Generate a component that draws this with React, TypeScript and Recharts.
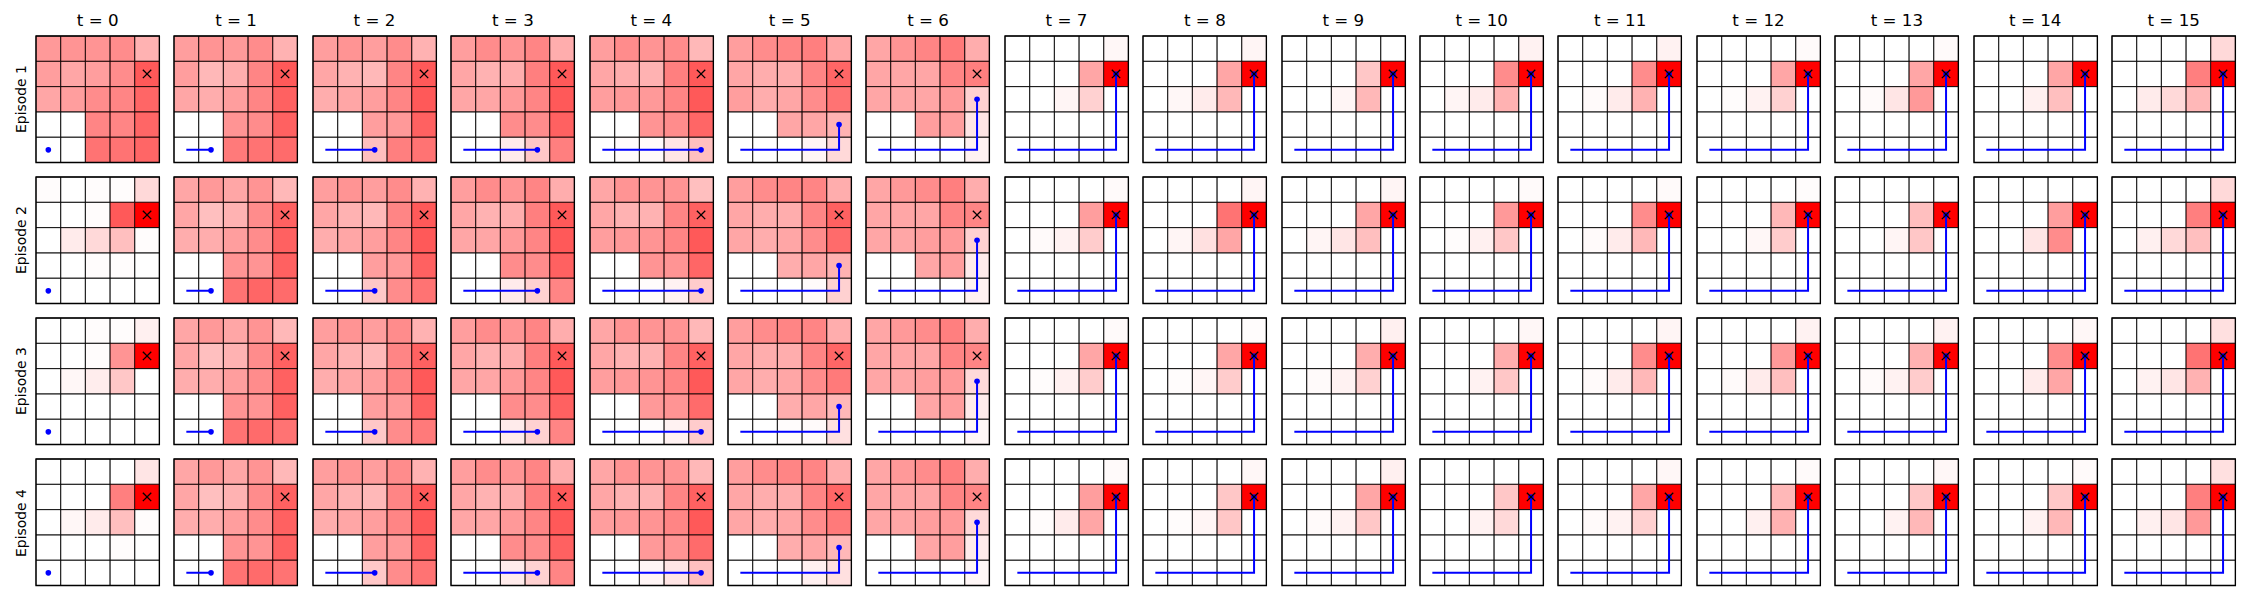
import React from 'react';
import { ComposedChart, XAxis, YAxis, ReferenceArea, Line, Scatter } from 'recharts';

const timeSteps = [0, 1, 2, 3, 4, 5, 6, 7, 8, 9, 10, 11, 12, 13, 14, 15];
const episodeLabels = ['Episode 1', 'Episode 2', 'Episode 3', 'Episode 4'];
const pathX = [0.5, 1.5, 2.5, 3.5, 4.5, 4.5, 4.5, 4.5];
const pathY = [0.5, 0.5, 0.5, 0.5, 0.5, 1.5, 2.5, 3.5];
const goalPoint = [{ x: 4.5, y: 3.5 }];

// each grid: 5 rows (top to bottom) x 5 columns, intensity 0..1
const ep1Grids: number[][] = [
  [0.40,0.42,0.42,0.45,0.30, 0.38,0.35,0.38,0.45,0.65, 0.35,0.38,0.45,0.48,0.60, 0,0,0.48,0.48,0.60, 0,0,0.55,0.55,0.60],
  [0.38,0.42,0.40,0.45,0.30, 0.38,0.28,0.32,0.48,0.65, 0.35,0.32,0.38,0.48,0.62, 0,0,0.42,0.45,0.62, 0,0,0.52,0.55,0.58],
  [0.38,0.42,0.38,0.45,0.30, 0.35,0.30,0.28,0.48,0.65, 0.32,0.35,0.38,0.48,0.65, 0,0,0.38,0.40,0.62, 0,0,0.25,0.50,0.55],
  [0.38,0.45,0.42,0.48,0.32, 0.35,0.30,0.32,0.50,0.65, 0.35,0.35,0.40,0.48,0.65, 0,0,0.45,0.45,0.62, 0,0,0.08,0.22,0.50],
  [0.38,0.45,0.42,0.45,0.28, 0.35,0.32,0.30,0.50,0.65, 0.38,0.40,0.40,0.48,0.65, 0,0,0.42,0.45,0.60, 0,0.01,0.02,0.10,0.25],
  [0.38,0.45,0.48,0.50,0.35, 0.35,0.32,0.32,0.48,0.60, 0.38,0.32,0.35,0.45,0.55, 0,0,0.35,0.35,0.30, 0,0,0,0.04,0.15],
  [0.35,0.42,0.48,0.52,0.32, 0.35,0.35,0.35,0.48,0.50, 0.35,0.35,0.35,0.40,0.18, 0,0,0.38,0.38,0.10, 0,0,0,0,0.05],
  [0,0,0,0,0.03, 0,0,0,0.35,1, 0,0,0.04,0.18,0, 0,0,0,0,0, 0,0,0,0,0],
  [0,0,0,0,0.04, 0,0,0,0.35,1, 0,0.03,0.08,0.28,0, 0,0,0,0,0, 0,0,0,0,0],
  [0,0,0,0,0.00, 0,0,0,0.22,1, 0,0,0.04,0.28,0, 0,0,0,0,0, 0,0,0,0,0],
  [0,0,0,0,0.05, 0,0,0,0.45,1, 0,0.04,0.08,0.30,0, 0,0,0,0,0, 0,0,0,0,0],
  [0,0,0,0,0.05, 0,0,0,0.45,1, 0,0.02,0.08,0.30,0, 0,0,0,0,0, 0,0,0,0,0],
  [0,0,0,0,0.02, 0,0,0,0.35,1, 0,0.01,0.05,0.18,0, 0,0,0,0,0, 0,0,0,0,0],
  [0,0,0,0,0.02, 0,0,0,0.35,1, 0,0.02,0.10,0.40,0, 0,0,0,0,0, 0,0,0,0,0],
  [0,0,0,0,0.00, 0,0,0,0.35,1, 0,0,0.06,0.25,0, 0,0,0,0,0, 0,0,0,0,0],
  [0,0,0,0,0.15, 0,0,0,0.50,1, 0,0.08,0.15,0.28,0, 0,0,0,0,0, 0,0,0,0,0],
];

const ep2Grids: number[][] = [
  [0.01,0,0.01,0.01,0.15, 0,0,0.01,0.65,1, 0,0.08,0.15,0.25,0.01, 0,0,0.01,0.01,0, 0,0,0,0,0],
  [0.35,0.40,0.35,0.42,0.28, 0.35,0.25,0.30,0.45,0.62, 0.32,0.32,0.38,0.45,0.62, 0,0,0.42,0.42,0.62, 0,0,0.55,0.60,0.58],
  [0.38,0.42,0.38,0.45,0.30, 0.35,0.30,0.28,0.48,0.65, 0.32,0.35,0.38,0.48,0.65, 0,0,0.38,0.40,0.62, 0,0,0.22,0.45,0.55],
  [0.38,0.45,0.42,0.48,0.32, 0.35,0.30,0.32,0.50,0.65, 0.35,0.35,0.40,0.48,0.65, 0,0,0.45,0.45,0.62, 0,0,0.08,0.18,0.48],
  [0.35,0.42,0.42,0.42,0.25, 0.35,0.30,0.30,0.48,0.62, 0.38,0.40,0.42,0.48,0.65, 0,0,0.42,0.42,0.60, 0,0,0.01,0.05,0.20],
  [0.38,0.45,0.48,0.48,0.32, 0.35,0.32,0.32,0.48,0.62, 0.35,0.32,0.35,0.45,0.58, 0,0,0.32,0.35,0.30, 0,0,0,0.02,0.18],
  [0.35,0.40,0.45,0.50,0.32, 0.35,0.35,0.35,0.48,0.48, 0.35,0.35,0.38,0.40,0.18, 0,0,0.35,0.38,0.08, 0,0,0,0,0.05],
  [0,0,0,0,0.02, 0,0,0,0.38,1, 0,0.02,0.05,0.20,0, 0,0,0,0,0, 0,0,0,0,0],
  [0,0,0,0,0.04, 0,0,0,0.55,1, 0,0.04,0.12,0.35,0, 0,0,0,0,0, 0,0,0,0,0],
  [0,0,0,0,0.04, 0,0,0,0.35,1, 0,0.04,0.10,0.25,0, 0,0,0,0,0, 0,0,0,0,0],
  [0,0,0,0,0.02, 0,0,0,0.40,1, 0,0.01,0.06,0.22,0, 0,0,0,0,0, 0,0,0,0,0],
  [0,0,0,0,0.02, 0,0,0,0.45,1, 0,0.02,0.08,0.28,0, 0,0,0,0,0, 0,0,0,0,0],
  [0,0,0,0,0.01, 0,0,0,0.28,1, 0,0,0.03,0.20,0, 0,0,0,0,0, 0,0,0,0,0],
  [0,0,0,0,0.00, 0,0,0,0.25,1, 0,0,0.04,0.22,0, 0,0,0,0,0, 0,0,0,0,0],
  [0,0,0,0,0.00, 0,0,0,0.38,1, 0,0,0.10,0.45,0, 0,0,0,0,0, 0,0,0,0,0],
  [0,0,0,0,0.15, 0,0,0,0.50,1, 0,0.06,0.15,0.25,0, 0,0,0,0,0, 0,0,0,0,0],
];

const ep3Grids: number[][] = [
  [0,0,0.01,0.01,0.06, 0,0,0.01,0.42,1, 0,0.03,0.07,0.22,0, 0,0,0,0,0, 0,0,0,0,0],
  [0.35,0.40,0.35,0.42,0.28, 0.35,0.25,0.30,0.45,0.62, 0.32,0.32,0.38,0.45,0.62, 0,0,0.42,0.42,0.62, 0,0,0.55,0.58,0.55],
  [0.38,0.42,0.38,0.45,0.30, 0.35,0.30,0.28,0.48,0.62, 0.32,0.35,0.38,0.48,0.65, 0,0,0.38,0.40,0.62, 0,0,0.22,0.45,0.52],
  [0.38,0.45,0.42,0.48,0.32, 0.35,0.30,0.32,0.50,0.65, 0.35,0.35,0.40,0.48,0.65, 0,0,0.45,0.45,0.62, 0,0,0.08,0.18,0.48],
  [0.35,0.42,0.42,0.42,0.28, 0.35,0.30,0.30,0.48,0.62, 0.38,0.40,0.42,0.48,0.65, 0,0,0.40,0.42,0.58, 0,0,0.01,0.05,0.20],
  [0.38,0.45,0.48,0.48,0.32, 0.35,0.32,0.32,0.48,0.60, 0.35,0.32,0.35,0.45,0.52, 0,0,0.32,0.35,0.28, 0,0,0.01,0.02,0.12],
  [0.35,0.40,0.45,0.50,0.32, 0.35,0.35,0.35,0.48,0.48, 0.35,0.35,0.38,0.40,0.15, 0,0,0.35,0.38,0.08, 0,0,0,0,0.03],
  [0,0,0,0,0.02, 0,0,0,0.35,1, 0,0.01,0.06,0.20,0, 0,0,0,0,0, 0,0,0,0,0],
  [0,0,0,0,0.01, 0,0,0,0.35,1, 0,0.01,0.04,0.20,0, 0,0,0,0,0, 0,0,0,0,0],
  [0,0,0,0,0.06, 0,0,0,0.32,1, 0,0.02,0.05,0.18,0, 0,0,0,0,0, 0,0,0,0,0],
  [0,0,0,0,0.03, 0,0,0,0.32,1, 0,0,0.05,0.22,0, 0,0,0,0,0, 0,0,0,0,0],
  [0,0,0,0,0.04, 0,0,0,0.45,1, 0,0.02,0.08,0.28,0, 0,0,0,0,0, 0,0,0,0,0],
  [0,0,0,0,0.05, 0,0,0,0.40,1, 0,0.02,0.08,0.25,0, 0,0,0,0,0, 0,0,0,0,0],
  [0,0,0,0,0.05, 0,0,0,0.30,1, 0,0.02,0.05,0.20,0, 0,0,0,0,0, 0,0,0,0,0],
  [0,0,0,0,0.03, 0,0,0,0.45,1, 0,0,0.08,0.35,0, 0,0,0,0,0, 0,0,0,0,0],
  [0,0,0,0,0.12, 0,0,0,0.55,1, 0,0.05,0.10,0.30,0, 0,0,0,0,0, 0,0,0,0,0],
];

const ep4Grids: number[][] = [
  [0,0,0,0,0.10, 0,0,0,0.50,1, 0,0.03,0.08,0.25,0.01, 0,0,0,0.01,0, 0,0,0,0,0],
  [0.35,0.40,0.35,0.42,0.28, 0.35,0.25,0.30,0.45,0.62, 0.32,0.32,0.38,0.45,0.62, 0,0,0.42,0.42,0.62, 0,0,0.55,0.58,0.55],
  [0.38,0.42,0.38,0.45,0.30, 0.35,0.30,0.28,0.48,0.65, 0.32,0.35,0.38,0.48,0.65, 0,0,0.38,0.40,0.62, 0,0,0.22,0.45,0.55],
  [0.38,0.45,0.42,0.48,0.32, 0.35,0.30,0.32,0.50,0.65, 0.35,0.35,0.40,0.48,0.65, 0,0,0.45,0.45,0.62, 0,0,0.08,0.18,0.48],
  [0.35,0.42,0.42,0.42,0.28, 0.35,0.30,0.30,0.48,0.62, 0.38,0.40,0.42,0.48,0.65, 0,0,0.40,0.42,0.58, 0,0,0.04,0.10,0.25],
  [0.38,0.45,0.48,0.48,0.32, 0.35,0.32,0.32,0.48,0.60, 0.35,0.32,0.35,0.45,0.52, 0,0,0.32,0.35,0.28, 0,0,0,0.06,0.12],
  [0.35,0.40,0.45,0.50,0.32, 0.35,0.35,0.35,0.48,0.48, 0.35,0.35,0.38,0.40,0.15, 0,0,0.35,0.38,0.08, 0,0,0,0,0.03],
  [0,0,0,0,0.02, 0,0,0,0.38,1, 0,0.01,0.08,0.35,0, 0,0,0,0,0, 0,0,0,0,0],
  [0,0,0,0,0.03, 0,0,0,0.22,1, 0,0.01,0.04,0.22,0, 0,0,0,0,0, 0,0,0,0,0],
  [0,0,0,0,0.06, 0,0,0,0.35,1, 0,0.02,0.05,0.22,0, 0,0,0,0,0, 0,0,0,0,0],
  [0,0,0,0,0.00, 0,0,0,0.22,1, 0,0,0.05,0.15,0, 0,0,0,0,0, 0,0,0,0,0],
  [0,0,0,0,0.03, 0,0,0,0.35,1, 0,0.02,0.05,0.18,0, 0,0,0,0,0, 0,0,0,0,0],
  [0,0,0,0,0.02, 0,0,0,0.28,1, 0,0,0.06,0.30,0, 0,0,0,0,0, 0,0,0,0,0],
  [0,0,0,0,0.03, 0,0,0,0.22,1, 0,0,0.05,0.28,0, 0,0,0,0,0, 0,0,0,0,0],
  [0,0,0,0,0.02, 0,0,0,0.22,1, 0,0,0.05,0.28,0, 0,0,0,0,0, 0,0,0,0,0],
  [0,0,0,0,0.12, 0,0,0,0.50,1, 0,0.06,0.10,0.40,0, 0,0,0,0,0, 0,0,0,0,0],
];

const allGrids = [ep1Grids, ep2Grids, ep3Grids, ep4Grids];

const COL0 = 36;
const COLSTEP = 138.4;
const PW = 123.4;
const ROW0 = 36;
const ROWSTEP = 141.1;
const PH = 126.5;
const PAD = 3;
const FONT = '"DejaVu Sans", sans-serif';

const DotShape = (props: any) => (
  <circle cx={props.cx} cy={props.cy} r={2.8} fill="#0000ff" />
);

const CrossShape = (props: any) => {
  const { cx, cy } = props;
  const s = 4.2;
  return (
    <g stroke="#000" strokeWidth={1.3}>
      <line x1={cx - s} y1={cy - s} x2={cx + s} y2={cy + s} />
      <line x1={cx - s} y1={cy + s} x2={cx + s} y2={cy - s} />
    </g>
  );
};

function Panel({ grid, t, left, top }: { grid: number[]; t: number; left: number; top: number }) {
  const n = Math.min(t, 7);
  const path = pathX.slice(0, n + 1).map((x, i) => ({ x, y: pathY[i] }));
  const last = [path[path.length - 1]];
  const cells: React.ReactNode[] = [];
  grid.forEach((v, idx) => {
    const r = Math.floor(idx / 5);
    const c = idx % 5;
    cells.push(
      <ReferenceArea
        key={`c${idx}`}
        x1={c}
        x2={c + 1}
        y1={4 - r}
        y2={5 - r}
        fill="#ff0000"
        fillOpacity={v}
        stroke="#000"
        strokeOpacity={0.8}
        strokeWidth={0.9}
        ifOverflow="visible"
      />
    );
  });
  return (
    <div style={{ position: 'absolute', left: left - PAD, top: top - PAD }}>
      <ComposedChart
        width={PW + 2 * PAD}
        height={PH + 2 * PAD}
        margin={{ top: PAD, right: PAD, bottom: PAD, left: PAD }}
      >
        <XAxis type="number" dataKey="x" domain={[0, 5]} hide allowDataOverflow />
        <YAxis type="number" dataKey="y" domain={[0, 5]} hide allowDataOverflow />
        {cells}
        <ReferenceArea x1={0} x2={5} y1={0} y2={5} fill="#fff" fillOpacity={0} stroke="#000" strokeWidth={1.3} ifOverflow="visible" />
        {path.length > 1 && (
          <Line
            data={path}
            dataKey="y"
            stroke="#0000ff"
            strokeWidth={2}
            dot={false}
            activeDot={false}
            isAnimationActive={false}
          />
        )}
        <Scatter data={last} dataKey="y" shape={DotShape} isAnimationActive={false} />
        <Scatter data={goalPoint} dataKey="y" shape={CrossShape} isAnimationActive={false} />
      </ComposedChart>
    </div>
  );
}

export default function App() {
  return (
    <div
      style={{
        position: 'absolute',
        left: 0,
        top: 0,
        width: 2250,
        height: 600,
        background: '#fff',
        fontFamily: FONT,
      }}
    >
      {timeSteps.map((t, c) => (
        <div
          key={`title${t}`}
          style={{
            position: 'absolute',
            left: COL0 + c * COLSTEP,
            width: PW,
            top: 10,
            textAlign: 'center',
            fontSize: 16.7,
            lineHeight: '20px',
            color: '#000',
          }}
        >
          {`t = ${t}`}
        </div>
      ))}
      {episodeLabels.map((lab, r) => (
        <div
          key={lab}
          style={{
            position: 'absolute',
            left: 21 - 50,
            top: ROW0 + r * ROWSTEP + PH / 2 - 9,
            width: 100,
            height: 18,
            lineHeight: '18px',
            textAlign: 'center',
            fontSize: 13.9,
            color: '#000',
            transform: 'rotate(-90deg)',
          }}
        >
          {lab}
        </div>
      ))}
      {allGrids.map((grids, r) =>
        timeSteps.map((t, c) => (
          <Panel
            key={`p${r}-${t}`}
            grid={grids[t]}
            t={t}
            left={COL0 + c * COLSTEP}
            top={ROW0 + r * ROWSTEP}
          />
        ))
      )}
    </div>
  );
}
